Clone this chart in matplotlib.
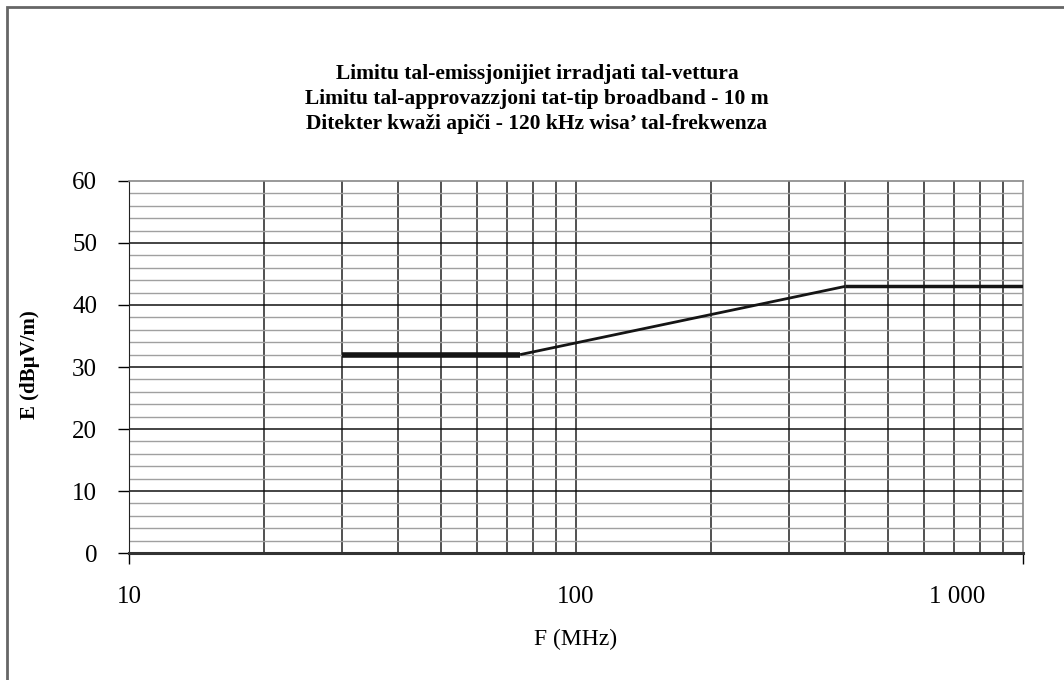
import numpy as np
import matplotlib
matplotlib.use('Agg')
import matplotlib.pyplot as plt
import matplotlib.transforms as mtrans
from matplotlib.patches import Rectangle

# limit curve (MHz, dBuV/m)
freq = [30, 75, 400, 1000]
level = [32, 32, 43, 43]
seg_width = [4.0, 2.0, 2.5]

xticks = [10, 100, 1000]
xlabels = ['10', '100', '1 000']
yticks = [0, 10, 20, 30, 40, 50, 60]
title_lines = ['Limitu tal-emissjonijiet irradjati tal-vettura',
               'Limitu tal-approvazzjoni tat-tip broadband - 10 m',
               'Ditekter kwaži apiči - 120 kHz wisa\u2019 tal-frekwenza']

plt.rcParams['font.family'] = ['Liberation Serif', 'DejaVu Serif']

fig = plt.figure(figsize=(10.64, 6.80), dpi=100)
ax = fig.add_axes([129/1064, 1-553/680, (1023-129)/1064, (553-181)/680])

ax.set_xscale('log')
ax.set_xlim(10, 1000)
ax.set_ylim(0, 60)

# grid
minor_x = [v * d for d in (10, 100) for v in range(2, 10)]
for xv in minor_x + [100]:
    ax.axvline(xv, color='#222222', lw=1.1, zorder=1)
for yv in np.arange(2, 60, 2):
    if yv % 10 == 0:
        ax.axhline(yv, color='#111111', lw=1.1, zorder=1)
    else:
        ax.axhline(yv, color='#a0a0a0', lw=1.0, zorder=1)

for i in range(len(freq) - 1):
    ax.plot(freq[i:i+2], level[i:i+2], color='#151515', lw=seg_width[i],
            solid_capstyle='butt', zorder=3)

for s in ['top', 'right']:
    ax.spines[s].set_color('#888888')
    ax.spines[s].set_linewidth(1.2)
ax.spines['left'].set_color('#222222')
ax.spines['bottom'].set_color('#333333')
ax.spines['bottom'].set_linewidth(2.2)

ax.set_yticks(yticks)
ax.set_yticklabels([str(v) for v in yticks])
ax.tick_params(axis='y', direction='out', length=8, width=1, pad=15, labelsize=18)
ax.set_xticks(xticks)
ax.set_xticklabels(xlabels)
ax.xaxis.set_minor_locator(matplotlib.ticker.NullLocator())
ax.tick_params(axis='x', direction='out', length=8, width=1, pad=16, labelsize=18)
ax.xaxis.get_major_ticks()[1].tick1line.set_visible(False)
lab = ax.get_xticklabels()[2]
lab.set_transform(lab.get_transform() + mtrans.ScaledTranslation(-0.66, 0, fig.dpi_scale_trans))

fig.text(576/1064, 1-639/680, 'F (MHz)', ha='center', va='center', fontsize=17)
fig.text(30/1064, 1-365/680, 'E (dB\u00b5V/m)', ha='center', va='center',
         rotation=90, fontsize=15, fontweight='bold')

for i, t in enumerate(title_lines):
    fig.text(537/1064, 1-(74+25*i)/680, t, ha='center', va='center',
             fontsize=15.5, fontweight='bold')

fig.patches.append(Rectangle((7/1064, -0.1), 1.2, 1.1 - 7/680, transform=fig.transFigure,
                             fill=False, edgecolor='#666666', lw=2))

fig.savefig('out.png', dpi=100)
